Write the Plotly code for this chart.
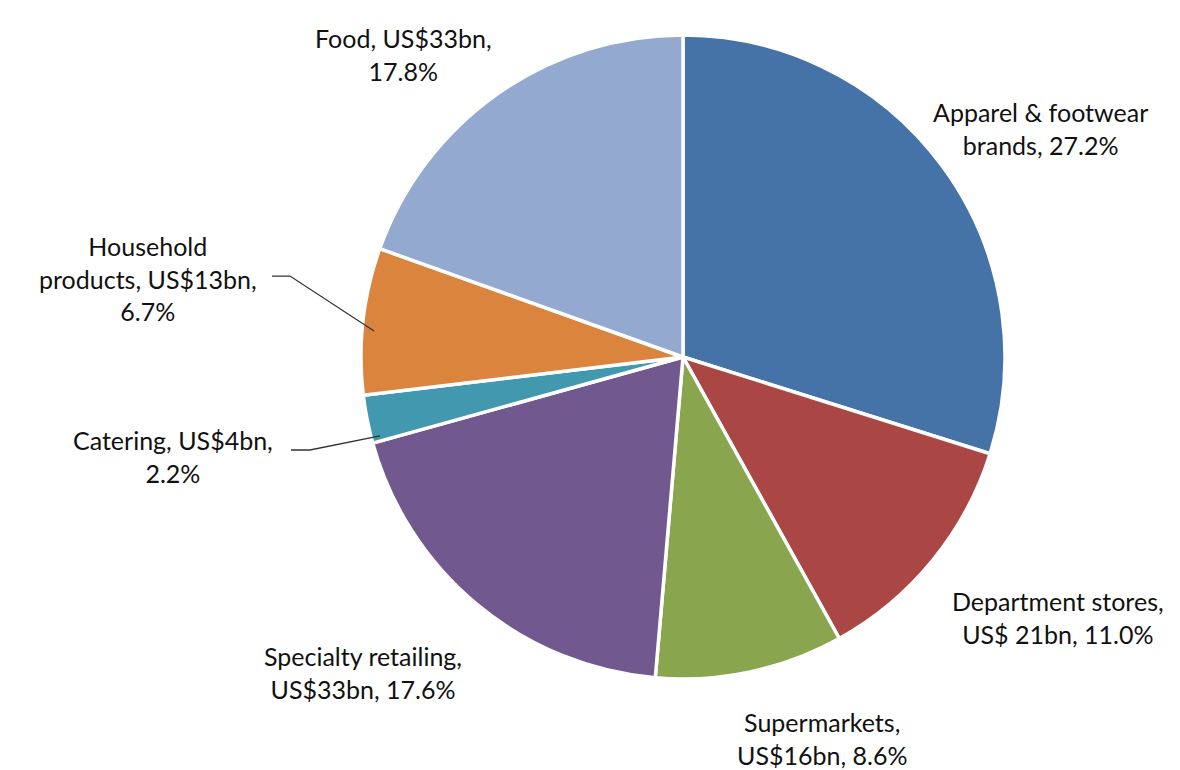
import plotly.graph_objects as go

categories = ["Apparel & footwear brands", "Department stores", "Supermarkets",
              "Specialty retailing", "Catering", "Household products", "Food"]
shares = [27.2, 11.0, 8.6, 17.6, 2.2, 6.7, 17.8]
label_texts = [
    "Apparel & footwear<br>brands, 27.2%",
    "Department stores,<br>US$ 21bn, 11.0%",
    "Supermarkets,<br>US$16bn, 8.6%",
    "Specialty retailing,<br>US$33bn, 17.6%",
    "Catering, US$4bn,<br>2.2%",
    "Household<br>products, US$13bn,<br>6.7%",
    "Food, US$33bn,<br>17.8%",
]
colors = ["#4572A7", "#AA4643", "#89A54E", "#71588F", "#4198AF", "#DB843D", "#93A9CF"]

W, H = 1180, 770
# label centers in pixels (layout only)
label_pos = [(1032, 120), (1050, 609), (814, 730), (355, 664), (165, 448), (140, 270), (395, 47)]

cx, cy, r = 675, 349, 322
fig = go.Figure(go.Pie(
    labels=categories, values=shares, sort=False, direction="clockwise", rotation=0,
    marker=dict(colors=colors, line=dict(color="white", width=3.5)),
    textinfo="none", hoverinfo="label+percent",
    domain=dict(x=[(cx - r) / W, (cx + r) / W], y=[(H - cy - r) / H, (H - cy + r) / H]),
    showlegend=False,
))

for t, (px, py) in zip(label_texts, label_pos):
    fig.add_annotation(text=t, x=px / W, y=1 - py / H, xref="paper", yref="paper",
                       showarrow=False, xanchor="center", yanchor="middle",
                       font=dict(family="Lato, Open Sans, sans-serif", size=25, color="#111111"))

def p2(x, y):
    return x / W, 1 - y / H

leaders = [[(264, 268), (282, 268), (366, 323)], [(283, 442), (302, 442), (372, 428)]]
for pts in leaders:
    path = "M " + " L ".join(f"{p2(*p)[0]:.4f},{p2(*p)[1]:.4f}" for p in pts)
    fig.add_shape(type="path", path=path, xref="paper", yref="paper",
                  line=dict(color="#333333", width=1.3))

fig.update_layout(width=W, height=H, margin=dict(l=0, r=0, t=0, b=0),
                  paper_bgcolor="white", plot_bgcolor="white")
fig.write_html("out.html")
